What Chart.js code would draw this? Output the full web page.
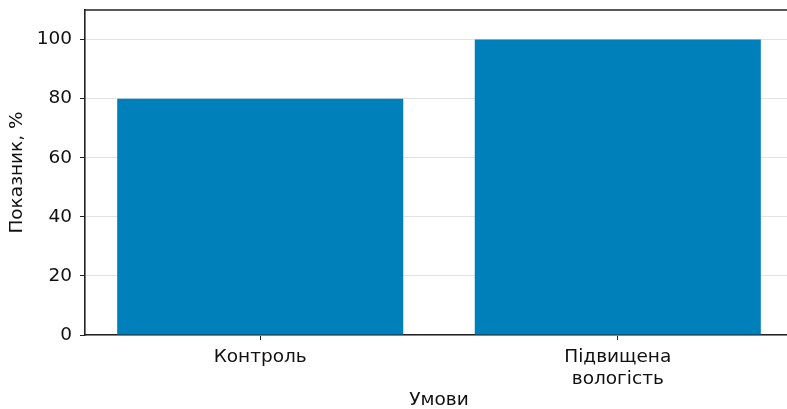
<!DOCTYPE html>
<html>
<head>
<meta charset="utf-8">
<script src="https://cdn.jsdelivr.net/npm/chart.js@4"></script>
<style>
  html, body { margin: 0; padding: 0; overflow: hidden; background: #fff; }
  #wrap { width: 793px; height: 411px; }
</style>
</head>
<body>
<div id="wrap"><canvas id="myChart" width="793" height="411"></canvas></div>
<script>
const categories = [['Контроль'], ['Підвищена', 'вологість']];
const values = [80, 100];
const yTicks = [0, 20, 40, 60, 80, 100];

const topLine = {
    id: 'topLine',
    afterDraw(chart) {
        const c = chart.ctx, a = chart.chartArea;
        c.save();
        c.strokeStyle = '#222';
        c.lineWidth = 1.6;
        c.beginPath();
        c.moveTo(a.left, a.top);
        c.lineTo(a.right, a.top);
        c.stroke();
        c.restore();
    }
};

const font = { family: 'DejaVu Sans', size: 18.5 };

const ctx = document.getElementById('myChart');
new Chart(ctx, {
    type: 'bar',
    data: {
        datasets: [{
            label: 'Показник',
            data: values.map((v, i) => ({ x: i, y: v })),
            backgroundColor: '#0080BA',
            barPercentage: 0.8,
            categoryPercentage: 1.0,
        }]
    },
    options: {
        responsive: false,
        animation: false,
        layout: { padding: { top: 10, left: 0, right: 0, bottom: 0 } },
        plugins: { legend: { display: false }, tooltip: { enabled: false } },
        scales: {
            x: {
                type: 'linear',
                min: -0.49,
                max: 1.49,
                offset: false,
                afterFit: (s) => { s.height = 76; },
                afterBuildTicks: (s) => { s.ticks = categories.map((c, i) => ({ value: i })); },
                grid: { display: true, offset: false, drawOnChartArea: false, tickLength: 5, tickColor: '#222' },
                border: { color: '#222', width: 1.6 },
                ticks: {
                    color: '#111', font: font, maxRotation: 0, padding: 6,
                    callback: (v) => categories[v]
                },
                title: { display: true, text: 'Умови', color: '#111', font: font, padding: { top: 4, bottom: 0 } }
            },
            y: {
                min: 0,
                max: 110,
                afterFit: (s) => { s.width = 85; s.paddingTop = 0; s.paddingBottom = 0; },
                afterBuildTicks: (s) => { s.ticks = yTicks.map(v => ({ value: v })); },
                grid: { color: '#e2e2e2', tickColor: '#222', tickLength: 5, lineWidth: 1 },
                border: { color: '#222', width: 1.6 },
                ticks: { color: '#111', font: font, padding: 8 },
                title: { display: true, text: 'Показник, %', color: '#111', font: font, padding: { top: 6, bottom: 4 } }
            }
        }
    },
    plugins: [topLine]
});
</script>
</body>
</html>
